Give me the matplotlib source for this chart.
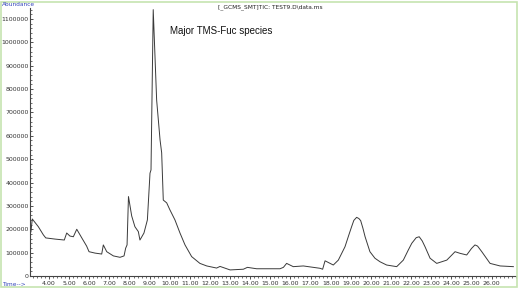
import matplotlib
matplotlib.use("Agg")
import matplotlib.pyplot as plt
from matplotlib.ticker import MultipleLocator, FixedLocator
from matplotlib.patches import Rectangle

# retention time (min) and abundance
rt = [3.06, 3.10, 3.17, 3.47, 3.72, 3.84, 4.30, 4.76, 4.88, 5.04, 5.21, 5.38,
      5.63, 5.87, 5.99, 6.29, 6.62, 6.70, 6.87, 7.20, 7.53, 7.73, 7.81, 7.88,
      7.95, 8.11, 8.27, 8.44, 8.52, 8.72, 8.89, 9.02, 9.07, 9.18, 9.35, 9.52,
      9.60, 9.68, 9.85, 10.01, 10.26, 10.51, 10.76, 11.09, 11.50, 11.84, 12.33,
      12.50, 13.00, 13.66, 13.86, 14.32, 15.48, 15.65, 15.81, 16.14, 16.64,
      17.47, 17.60, 17.72, 18.13, 18.38, 18.71, 18.90, 19.04, 19.15, 19.29,
      19.40, 19.49, 19.60, 19.71, 19.95, 20.20, 20.45, 20.78, 21.28, 21.61,
      21.85, 22.03, 22.25, 22.40, 22.55, 22.69, 22.94, 23.27, 23.77, 24.00,
      24.18, 24.43, 24.76, 25.00, 25.17, 25.30, 25.51, 25.92, 26.42, 27.08]
abundance = [244000, 188000, 244000, 211000, 176000, 163000, 158000, 154000,
             184000, 171000, 168000, 200000, 163000, 128000, 104000, 98000,
             94000, 133000, 104000, 86000, 80000, 86000, 119000, 133000,
             340000, 257000, 211000, 190000, 154000, 184000, 240000, 440000,
             454000, 1140000, 753000, 582000, 527000, 325000, 313000, 283000,
             240000, 184000, 133000, 83000, 54000, 43000, 34000, 41000, 26000,
             29000, 37000, 31000, 31000, 37000, 54000, 40000, 43000, 33000,
             29000, 65000, 47000, 68000, 125000, 175000, 211000, 238000,
             251000, 246000, 237000, 205000, 168000, 104000, 76000, 61000,
             47000, 40000, 68000, 110000, 140000, 164000, 168000, 150000,
             125000, 76000, 54000, 68000, 88000, 104000, 97000, 90000, 118000,
             133000, 128000, 104000, 54000, 43000, 40000]

ytick_vals = list(range(0, 1100001, 100000))
xtick_vals = list(range(4, 27))

W, H = 526, 291
fig = plt.figure(figsize=(W / 100, H / 100), dpi=100)
ax = fig.add_axes([30 / W, 15 / H, 486 / W, 268 / H])

ax.plot(rt, abundance, color="#3a3a3a", lw=0.7)

ax.set_xlim(3.056, 27.21)
ax.set_ylim(0, 1147000)

ax.yaxis.set_major_locator(FixedLocator(ytick_vals))
ax.set_yticklabels([str(v) for v in ytick_vals])
ax.yaxis.set_minor_locator(MultipleLocator(20000))
ax.xaxis.set_major_locator(FixedLocator(xtick_vals))
ax.set_xticklabels([f"{v}.00" for v in xtick_vals])
ax.xaxis.set_minor_locator(MultipleLocator(0.2))

ax.tick_params(axis="y", which="major", direction="in", length=2.5, width=0.6,
               labelsize=4.5, pad=1, colors="#333333")
ax.tick_params(axis="y", which="minor", direction="in", length=1.2, width=0.4)
ax.tick_params(axis="x", which="major", direction="out", length=2, width=0.6,
               labelsize=4.5, pad=1.5, colors="#333333")
ax.tick_params(axis="x", which="minor", direction="out", length=1.2, width=0.4)

for s in ["top", "right"]:
    ax.spines[s].set_visible(False)
for s in ["left", "bottom"]:
    ax.spines[s].set_linewidth(0.8)
    ax.spines[s].set_color("#444444")

fig.text(2 / W, 1 - 5 / H, "Abundance", color="#3344bb", fontsize=4.2,
         ha="left", va="center")
fig.text(2 / W, 1 - 284 / H, "Time-->", color="#3344bb", fontsize=4.2,
         ha="left", va="center")
fig.text(270 / W, 1 - 7 / H, "[_GCMS_SMT]TIC: TEST9.D\\data.ms", color="#222222",
         fontsize=4.2, ha="center", va="center")
ax.text(10.0, 1050000, "Major TMS-Fuc species", family="Liberation Sans",
        fontsize=7, ha="left", va="center", color="#111111")

# light green frame around the chromatogram window
fig.patches.append(Rectangle((1 / W, 4 / H), 516 / W, 285 / H, fill=False,
                             edgecolor="#c6e4b0", lw=1.2,
                             transform=fig.transFigure, figure=fig))

fig.savefig("out.png", dpi=100)
